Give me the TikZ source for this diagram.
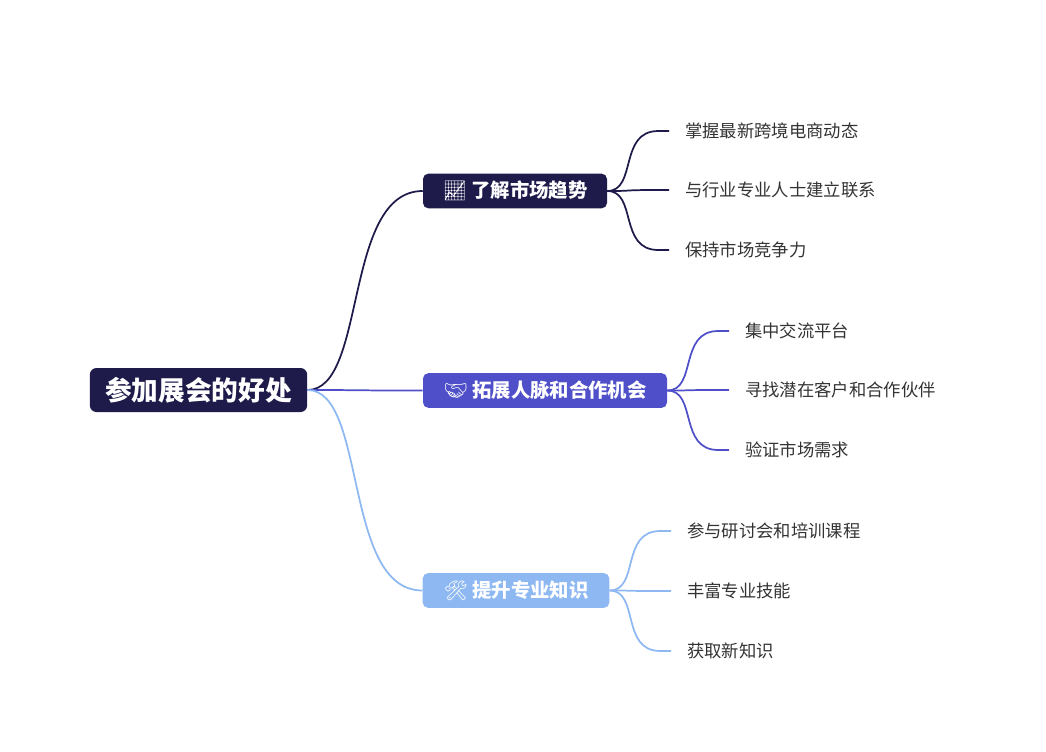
\documentclass[tikz,border=0pt]{standalone}
\usepackage{fontspec}
\setmainfont{Noto Sans CJK SC}
\newfontfamily\emo{Noto Emoji}
\begin{document}
\begin{tikzpicture}[x=0.75pt,y=-0.75pt]
\definecolor{navy}{HTML}{1E1B4B}
\definecolor{indi}{HTML}{4F4FC9}
\definecolor{lblue}{HTML}{8DB8F2}
\definecolor{txt}{HTML}{333333}
\tikzset{
 rootbox/.style={fill=navy,rounded corners=5pt,text=white,font=\bfseries\fontsize{20}{22}\selectfont,minimum width=163pt,minimum height=33pt,inner sep=0pt},
 brbox/.style={rounded corners=4pt,text=white,font=\bfseries\fontsize{14.5}{16}\selectfont,minimum height=26pt,inner sep=0pt},
 leaf/.style={anchor=west,text=txt,font=\fontsize{13}{15}\selectfont,inner sep=0pt},
 link/.style={line width=1.3pt}
}
\useasboundingbox (0,0) rectangle (1046,751);
\node[rootbox] (root) at (198.5,390) {参加展会的好处};
\node[brbox,fill=navy,minimum width=138pt] (b1) at (515,191) {{\emo 📈}\ 了解市场趋势};
\node[brbox,fill=indi,minimum width=183pt] (b2) at (545,390.5) {{\emo 🤝}\ 拓展人脉和合作机会};
\node[brbox,fill=lblue,minimum width=140pt] (b3) at (516,590.5) {{\emo 🛠}\ 提升专业知识};
\foreach \b/\c in {b1/navy,b2/indi,b3/lblue}
  \draw[link,\c] (root.east) .. controls +(60,0) and ([xshift=-60]\b.west) .. (\b.west);
\node[leaf] (l11) at (685,131) {掌握最新跨境电商动态};
\node[leaf] (l12) at (685,190) {与行业专业人士建立联系};
\node[leaf] (l13) at (685,250) {保持市场竞争力};
\node[leaf] (l21) at (745,331) {集中交流平台};
\node[leaf] (l22) at (745,390) {寻找潜在客户和合作伙伴};
\node[leaf] (l23) at (745,450) {验证市场需求};
\node[leaf] (l31) at (687,531) {参与研讨会和培训课程};
\node[leaf] (l32) at (687,591) {丰富专业技能};
\node[leaf] (l33) at (687,651) {获取新知识};
\foreach \b/\c/\l in {b1/navy/l11,b1/navy/l12,b1/navy/l13,b2/indi/l21,b2/indi/l22,b2/indi/l23,b3/lblue/l31,b3/lblue/l32,b3/lblue/l33}{
  \coordinate (e) at ([xshift=-20]\l.west);
  \draw[link,\c] (\b.east) .. controls +(30,0) and ([xshift=-30]e) .. (e) -- ([xshift=-12]\l.west);
}
\end{tikzpicture}
\end{document}
